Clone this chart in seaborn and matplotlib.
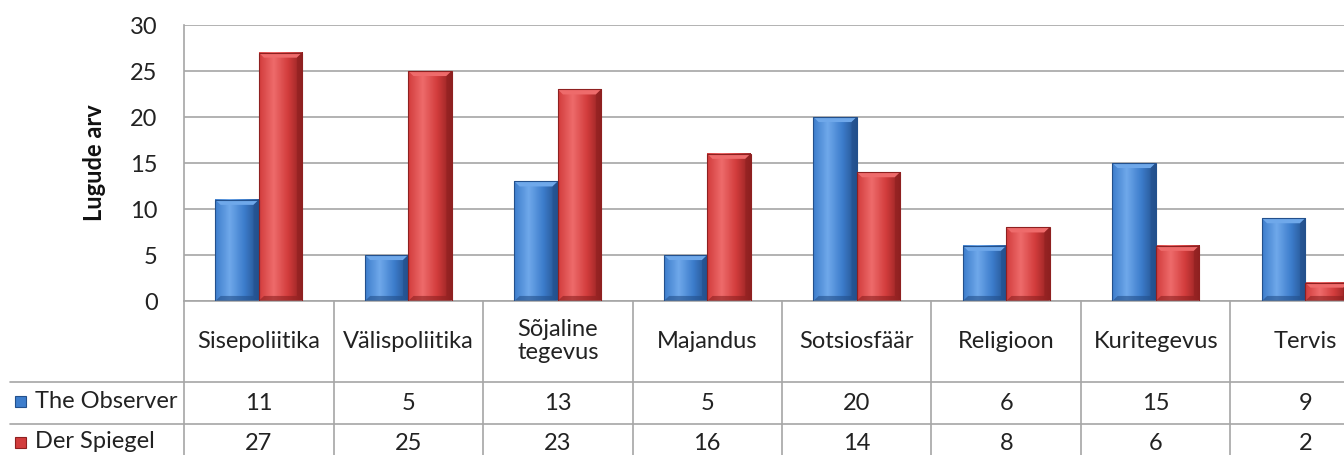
import numpy as np
import pandas as pd
import matplotlib
matplotlib.use("Agg")
import matplotlib.pyplot as plt
import matplotlib.transforms as mtransforms
from matplotlib.lines import Line2D
from matplotlib.patches import Polygon, Rectangle
from matplotlib.colors import LinearSegmentedColormap, to_hex
import seaborn as sns

# ---- data ----
categories = ["Sisepoliitika", "Välispoliitika", "Sõjaline\ntegevus", "Majandus",
              "Sotsiosfäär", "Religioon", "Kuritegevus", "Tervis"]
series_names = ["The Observer", "Der Spiegel"]
observer = [11, 5, 13, 5, 20, 6, 15, 9]
spiegel = [27, 25, 23, 16, 14, 8, 6, 2]
y_ticks = [0, 5, 10, 15, 20, 25, 30]
y_label = "Lugude arv"

df = pd.DataFrame({
    "cat": categories * 2,
    "series": [series_names[0]] * len(categories) + [series_names[1]] * len(categories),
    "val": observer + spiegel,
})

sns.set_theme(style="white")
plt.rcParams["font.family"] = ["Lato", "DejaVu Sans"]

W, H = 1344, 455
fig = plt.figure(figsize=(W / 100, H / 100), dpi=100)
fig.patch.set_facecolor("white")

def fy(p):
    return (H - p) / H

FS = 17
ax = fig.add_axes([184 / W, fy(301), 1196 / W, 276 / H])
blue, red = "#3d7dcc", "#d23c3c"
sns.barplot(data=df, x="cat", y="val", hue="series", palette=[blue, red],
            width=0.58, saturation=1, ax=ax, legend=False, edgecolor="none")
ax.set_xlim(-0.5, len(categories) - 0.5)
ax.set_ylim(0, 30)
ax.set_yticks(y_ticks)
ax.set_xlabel("")
ax.set_ylabel("")
ax.set_xticks([])
grid_c = "#a6a6a6"
ax.yaxis.grid(True, color=grid_c, lw=1.2)
ax.set_axisbelow(True)
for s in ["top", "right"]:
    ax.spines[s].set_visible(False)
for s in ["left", "bottom"]:
    ax.spines[s].set_color(grid_c)
    ax.spines[s].set_linewidth(1.2)
ax.tick_params(axis="y", length=0, pad=19, labelsize=FS, labelcolor="#222222")

# bevel / gradient styling of bars
styles = {
    blue: dict(light="#6fa8ea", main="#3d7dcc", dark="#23508c"),
    red: dict(light="#ee6b6b", main="#d23c3c", dark="#8e2020"),
}
for p in list(ax.patches):
    x0, y0 = p.get_x(), p.get_y()
    w, h = p.get_width(), p.get_height()
    if h <= 0:
        continue
    col = to_hex(p.get_facecolor())
    st = styles.get(col, styles[blue])
    cmap = LinearSegmentedColormap.from_list("g", [st["main"], st["light"], st["main"], st["dark"]])
    grad = np.linspace(0, 1, 64).reshape(1, -1)
    ax.imshow(grad, extent=[x0, x0 + w, y0, y0 + h], aspect="auto", cmap=cmap,
              zorder=2.5, interpolation="bilinear")
    p.set_alpha(0)
    bx = 0.035
    by = 0.55
    byy = min(by, h / 2)
    bxx = min(bx, w / 2)
    top = Polygon([[x0, y0 + h], [x0 + w, y0 + h], [x0 + w - bxx, y0 + h - byy], [x0 + bxx, y0 + h - byy]],
                  closed=True, facecolor=st["light"], edgecolor="none", zorder=2.7)
    bot = Polygon([[x0, y0], [x0 + w, y0], [x0 + w - bxx, y0 + byy], [x0 + bxx, y0 + byy]],
                  closed=True, facecolor=st["dark"], edgecolor="none", alpha=0.6, zorder=2.7)
    rgt = Polygon([[x0 + w, y0], [x0 + w, y0 + h], [x0 + w - bxx, y0 + h - byy], [x0 + w - bxx, y0 + byy]],
                  closed=True, facecolor=st["dark"], edgecolor="none", alpha=0.6, zorder=2.7)
    edge = Rectangle((x0, y0), w, h, facecolor="none", edgecolor=st["dark"], lw=0.8, zorder=2.8)
    for a in (top, bot, rgt, edge):
        ax.add_patch(a)
ax.set_xlim(-0.5, len(categories) - 0.5)
ax.set_ylim(0, 30)

fig.text(95 / W, fy(163), y_label, rotation=90, ha="center", va="center",
         fontsize=FS, fontweight="bold", color="#111111")

# data table
trans = mtransforms.blended_transform_factory(ax.transData, fig.transFigure)
tc = "#222222"
for i, c in enumerate(categories):
    ax.text(i, fy(341), c, transform=trans, ha="center", va="center", fontsize=FS,
            color=tc, clip_on=False, linespacing=1.15)
    ax.text(i, fy(403), str(observer[i]), transform=trans, ha="center", va="center",
            fontsize=FS, color=tc, clip_on=False)
    ax.text(i, fy(444), str(spiegel[i]), transform=trans, ha="center", va="center",
            fontsize=FS, color=tc, clip_on=False)
for i in range(len(categories) + 1):
    ax.add_line(Line2D([i - 0.5, i - 0.5], [fy(301), 0], transform=trans, color=grid_c,
                       lw=1.2, clip_on=False))
for yp in (382, 424):
    fig.add_artist(Line2D([10 / W, 1], [fy(yp), fy(yp)], color=grid_c, lw=1.2))

# legend keys in table
for yp, col, name in ((401, blue, series_names[0]), (442, red, series_names[1])):
    st = styles[col]
    fig.add_artist(Rectangle((15 / W, fy(yp + 6)), 11 / W, 11 / H, facecolor=col,
                             edgecolor=st["dark"], lw=0.8))
    fig.text(35 / W, fy(yp), name, ha="left", va="center", fontsize=FS, color=tc)

fig.savefig("out.png", dpi=100, facecolor="white")
